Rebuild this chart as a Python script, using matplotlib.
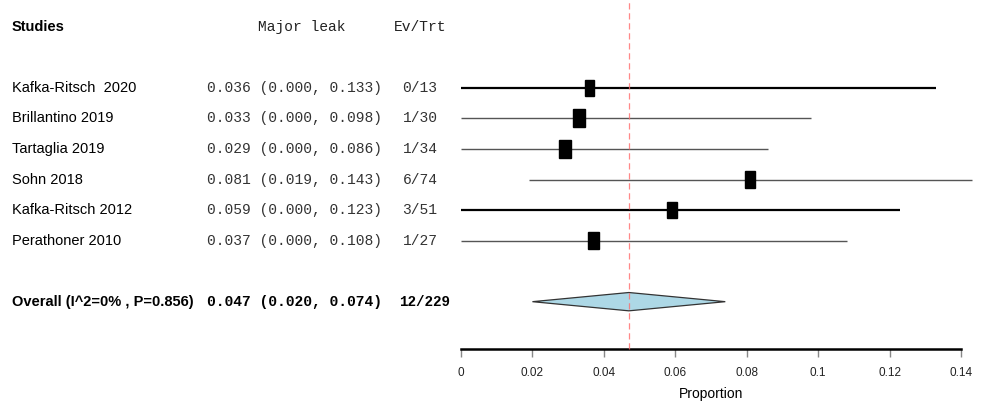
import matplotlib
matplotlib.use('Agg')
import matplotlib.pyplot as plt
import matplotlib.transforms as mtransforms
from matplotlib.patches import Rectangle, Polygon

studies = ['Kafka-Ritsch  2020', 'Brillantino 2019', 'Tartaglia 2019',
           'Sohn 2018', 'Kafka-Ritsch 2012', 'Perathoner 2010']
est = [0.036, 0.033, 0.029, 0.081, 0.059, 0.037]
lower = [0.000, 0.000, 0.000, 0.019, 0.000, 0.000]
upper = [0.133, 0.098, 0.086, 0.143, 0.123, 0.108]
ev_trt = ['0/13', '1/30', '1/34', '6/74', '3/51', '1/27']
weights = [0.80, 0.95, 1.00, 0.85, 0.85, 0.90]

overall_label = 'Overall (I^2=0% , P=0.856)'
overall_est, overall_lo, overall_hi = 0.047, 0.020, 0.074
overall_n = '12/229'
xticks = [0, 0.02, 0.04, 0.06, 0.08, 0.1, 0.12, 0.14]
xticklabels = ['0', '0.02', '0.04', '0.06', '0.08', '0.1', '0.12', '0.14']

sans = ['Liberation Sans', 'DejaVu Sans']
mono = ['Liberation Mono', 'DejaVu Sans Mono']

fig = plt.figure(figsize=(9.87, 4.08), dpi=100)
ax = fig.add_axes([461 / 987, 1 - 349 / 408, 500 / 987, 349 / 408])
ax.set_xlim(0, 0.14)
ax.set_ylim(9.55, -1.88)

rows = list(range(1, len(studies) + 1))
overall_row = 8

# study lines and squares
for i, r in enumerate(rows):
    thick = i in (0, 4)
    ax.plot([lower[i], upper[i]], [r, r], color='black' if thick else '#555555',
            lw=1.6 if thick else 1.0, clip_on=False, solid_capstyle='butt')
    w = 0.0034 * weights[i]
    h = 0.62 * weights[i]
    ax.add_patch(Rectangle((est[i] - w / 2, r - h / 2), w, h, color='black',
                           zorder=3, clip_on=False))

# overall diamond
dh = 0.3
ax.add_patch(Polygon([[overall_lo, overall_row], [overall_est, overall_row - dh],
                      [overall_hi, overall_row], [overall_est, overall_row + dh]],
                     closed=True, facecolor='#add8e6', edgecolor='#333333', lw=0.9,
                     zorder=3))

# dashed line at the pooled estimate, drawn over the diamond
ax.plot([overall_est, overall_est], [9.55, -1.8], color='#ff6b6b', lw=0.9,
        ls=(0, (5, 3)), zorder=4, clip_on=False, alpha=0.8)

for s in ['top', 'right', 'left']:
    ax.spines[s].set_visible(False)
ax.spines['bottom'].set_linewidth(1.8)
ax.set_yticks([])
ax.set_xticks(xticks)
ax.set_xticklabels(xticklabels, fontsize=8.5, family=sans, color='#222222')
ax.tick_params(axis='x', direction='out', length=6, width=1, color='#888888', pad=7)
ax.set_xlabel('Proportion', fontsize=10, family=sans, labelpad=6)

tr = mtransforms.blended_transform_factory(fig.transFigure, ax.transData)
header_row = -1
ax.text(12 / 987, header_row, 'Studies', transform=tr, fontsize=10.5,
        fontweight='bold', family=sans, va='center', ha='left')
ax.text(258 / 987, header_row, 'Major leak', transform=tr, fontsize=10.5,
        family=mono, va='center', ha='left', color='#222222')
ax.text(420 / 987, header_row, 'Ev/Trt', transform=tr, fontsize=10.5,
        family=mono, va='center', ha='center', color='#222222')

for i, r in enumerate(rows):
    ax.text(12 / 987, r, studies[i], transform=tr, fontsize=10.5,
            family=sans, va='center', ha='left')
    ax.text(207 / 987, r, f'{est[i]:.3f} ({lower[i]:.3f}, {upper[i]:.3f})',
            transform=tr, fontsize=10.5, family=mono, va='center', ha='left',
            color='#333333')
    ax.text(420 / 987, r, ev_trt[i], transform=tr, fontsize=10.5,
            family=mono, va='center', ha='center', color='#333333')

ax.text(12 / 987, overall_row, overall_label, transform=tr, fontsize=10.5,
        fontweight='bold', family=sans, va='center', ha='left')
ax.text(207 / 987, overall_row,
        f'{overall_est:.3f} ({overall_lo:.3f}, {overall_hi:.3f})',
        transform=tr, fontsize=10.5, fontweight='bold', family=mono,
        va='center', ha='left')
ax.text(425 / 987, overall_row, overall_n, transform=tr, fontsize=10.3,
        fontweight='bold', family=mono, va='center', ha='center')

fig.savefig('out.png', dpi=100)
